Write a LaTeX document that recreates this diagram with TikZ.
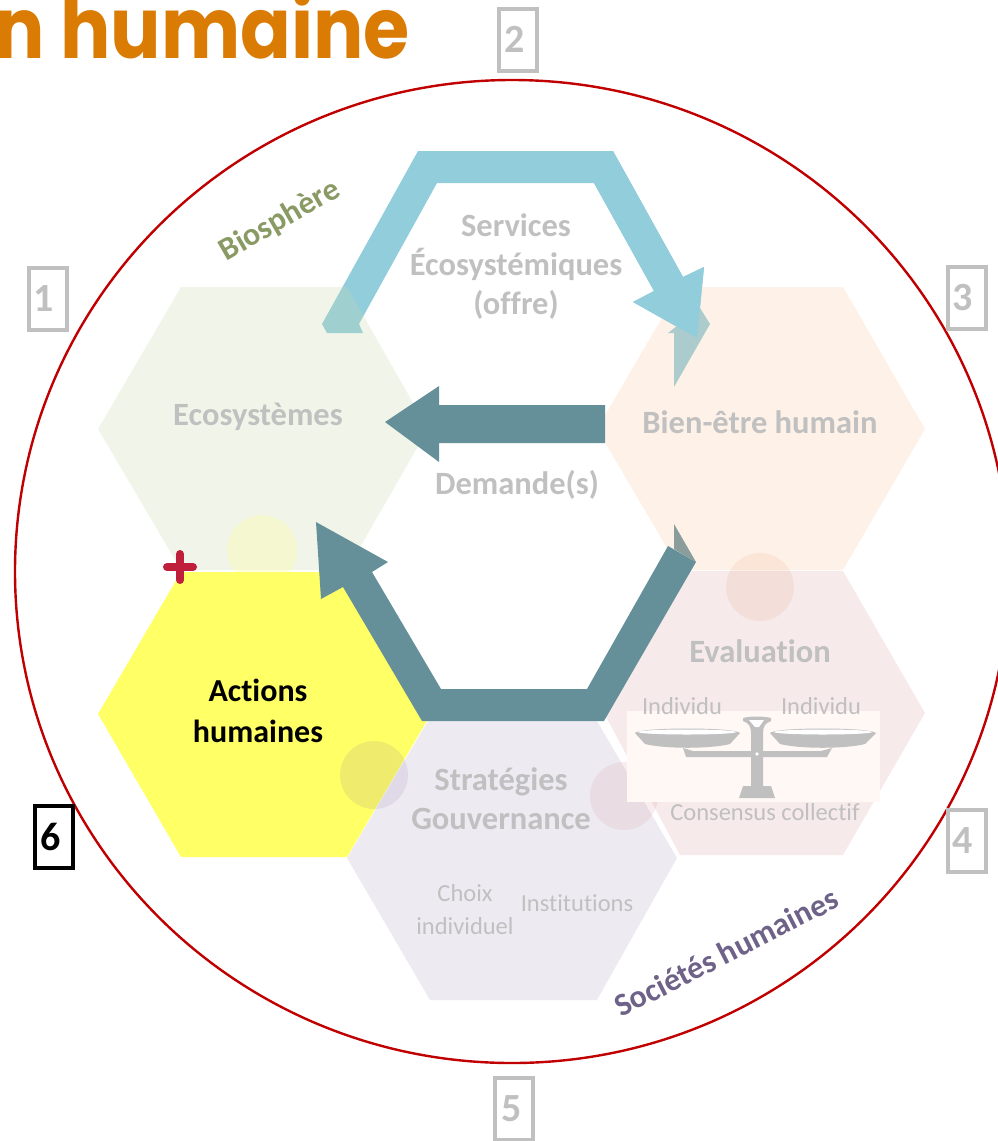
\documentclass[tikz,border=0pt]{standalone}
\usepackage{fontspec}
\setmainfont{Carlito}[RawFeature={-liga}]
\newfontfamily\titlefont{Poppins}
\definecolor{hexgray}{HTML}{C0C0C0}
\definecolor{bluearrow}{HTML}{92CDDC}
\definecolor{darkarrow}{HTML}{669099}
\definecolor{ringred}{HTML}{C00000}
\definecolor{titleorange}{HTML}{DA7C04}
\tikzset{
  big/.style={font=\fontsize{32.5}{39}\selectfont\bfseries,text=hexgray,align=center,inner sep=0pt},
  small/.style={font=\fontsize{24.5}{33}\selectfont,text=hexgray,align=center,inner sep=0pt},
  numbox/.style={draw=hexgray,line width=4pt,fill=none,minimum width=38pt,minimum height=62pt,inner sep=0pt,text=hexgray,font=\fontsize{40}{40}\selectfont\bfseries},
  scalepart/.style={fill=hexgray,draw=none}
}
\begin{document}
\begin{tikzpicture}[x=1pt,y=-1pt]
\useasboundingbox (0,0) rectangle (998,1141);
\clip (0,0) rectangle (998,1141);
% arrows beneath the hexagons
\fill[bluearrow] (322,324) -- (327,333) -- (363,333) -- (359,324) -- (437,183) -- (594,183) -- (654,291) -- (633,302) -- (697,338) -- (704,267) -- (683,277) -- (613,151) -- (418,151) -- cycle;
\fill[bluearrow] (668,333) -- (674,333) -- (674,387) -- (710,324) -- (700,308) -- cycle;
\fill[darkarrow] (674,524) -- (696,562) -- (674,549) -- cycle;
% hexagons
\fill[fill={rgb,255:red,199;green,215;blue,167},fill opacity=.25] (98,429) -- (181,287) -- (347,287) -- (428,429) -- (347,570) -- (181,570) -- cycle;
\fill[fill={rgb,255:red,247;green,199;blue,163},fill opacity=.25] (597,429) -- (680,287) -- (843,287) -- (925,429) -- (843,570) -- (680,570) -- cycle;
\fill[fill={rgb,255:red,218;green,170;blue,175},fill opacity=.25] (604,713) -- (680,571) -- (843,571) -- (925,713) -- (843,855) -- (680,855) -- cycle;
\fill[fill={rgb,255:red,183;green,172;blue,203},fill opacity=.25] (428,721) -- (347,858) -- (430,1000) -- (597,1000) -- (677,858) -- (597,721) -- cycle;
% soft circles
\fill[fill={rgb,255:red,255;green,255;blue,102},fill opacity=.2] (262,550) circle[radius=35pt];
\fill[fill={rgb,255:red,232;green,122;blue,60},fill opacity=.1] (760,587) circle[radius=34pt];
\fill[fill={rgb,255:red,209;green,114;blue,121},fill opacity=.12] (624,796) circle[radius=34pt];
% actions hexagon
\fill[fill={rgb,255:red,255;green,255;blue,102}] (98,714) -- (181,572) -- (347,572) -- (431,714) -- (347,857) -- (181,857) -- cycle;
\fill[fill={rgb,255:red,128;green,100;blue,162},fill opacity=.12] (374,775) circle[radius=34pt];
% ring
\draw[ringred,line width=2.4pt] (512,571.5) ellipse[x radius=497pt,y radius=491.5pt];
% blue tip over the hexagon
\fill[bluearrow] (594,151) -- (613,151) -- (683,277) -- (704,267) -- (697,338) -- (633,302) -- (654,291) -- (594,183) -- cycle;
% dark arrows
\fill[darkarrow] (385,422) -- (439,386) -- (439,405) -- (605,405) -- (605,443) -- (439,443) -- (439,462) -- cycle;
\fill[darkarrow] (316,522) -- (388,562) -- (372,572) -- (441,689) -- (587,689) -- (668,546) -- (696,562) -- (604,721) -- (422,721) -- (343,587) -- (321,599) -- cycle;
% scale
\fill[fill={rgb,255:red,255;green,248;blue,245}] (627,711) rectangle (880,802);
\fill[scalepart] (635,733) .. controls (640,727) and (735,727) .. (740,733) -- (730,744) .. controls (710,749) and (665,749) .. (645,744) -- cycle;
\fill[white] (687,732) ellipse[x radius=49pt,y radius=2.5pt];
\fill[scalepart] (770,733) .. controls (775,727) and (870,727) .. (876,733) -- (865,744) .. controls (845,749) and (800,749) .. (780,744) -- cycle;
\fill[white] (823,732) ellipse[x radius=49pt,y radius=2.5pt];
\fill[scalepart] (683,748) -- (693,751) -- (821,751) -- (832,748) -- (827,757) -- (763,757) -- (763,786) -- (771,786) -- (775,798) -- (739,798) -- (743,786) -- (751,786) -- (751,757) -- (686,757) -- cycle;
\fill[scalepart] (743,718) .. controls (750,716) and (764,716) .. (771,718) -- (771,721) .. controls (765,723) and (763,727) .. (763,733) -- (763,757) -- (751,757) -- (751,733) .. controls (751,727) and (749,723) .. (743,721) -- cycle;
\fill[white] (749,720) -- (764,720) -- (759,727) -- (755,727) -- cycle;
\fill[white] (757,754) circle[radius=1.8pt];
% plus
\draw[line width=8pt,color={rgb,255:red,192;green,31;blue,60},line cap=round] (167,567) -- (193,567) (180,554) -- (180,580);
% texts
\node[big] (eco) at (258,416.5) {Ecosystèmes};
\node[big] (serv) at (516,266.5) {Services\\Écosystémiques\\(offre)};
\node[big] (bien) at (760,422) {Bien-être humain};
\node[big] (dem) at (517,485) {Demande(s)};
\node[big] (eval) at (760,651) {Evaluation};
\node[big] (strat) at (501,799) {Stratégies\\Gouvernance};
\node[big,text=black,font=\fontsize{32}{41}\selectfont\bfseries] (act) at (258,711) {Actions\\humaines};
\node[small] (ind1) at (682,706) {Individu};
\node[small] (ind2) at (821,706) {Individu};
\node[small] (cons) at (765,812) {Consensus collectif};
\node[small] (choix) at (465,910) {Choix\\individuel};
\node[small] (inst) at (577,903) {Institutions};
\node[font=\fontsize{32}{33}\selectfont\bfseries,text={rgb,255:red,138;green,154;blue,100},rotate=30,inner sep=0pt] (bio) at (280,221) {Biosphère};
\node[font=\fontsize{32}{33}\selectfont\bfseries,text={rgb,255:red,110;green,98;blue,136},rotate=27,inner sep=0pt] (soc) at (726,952) {Sociétés humaines};
% numbered boxes
\node[numbox] (n1) at (47.5,299) {\kern-8pt 1};
\node[numbox] (n2) at (517.5,39.5) {\kern-5pt 2};
\node[numbox] (n3) at (967,298) {\kern-8pt 3};
\node[numbox] (n4) at (967,841) {\kern-8pt 4};
\node[numbox] (n5) at (513.5,1109) {\kern-3pt 5};
\node[numbox,draw=black,text=black] (n6) at (53.5,836.5) {\kern-5pt 6};
% title
\node[anchor=base east,font=\titlefont\fontsize{85}{90}\selectfont\bfseries,text=titleorange,inner sep=0pt] (title) at (410,58) {\scalebox{.88}[1]{n humaine}};
\end{tikzpicture}
\end{document}
